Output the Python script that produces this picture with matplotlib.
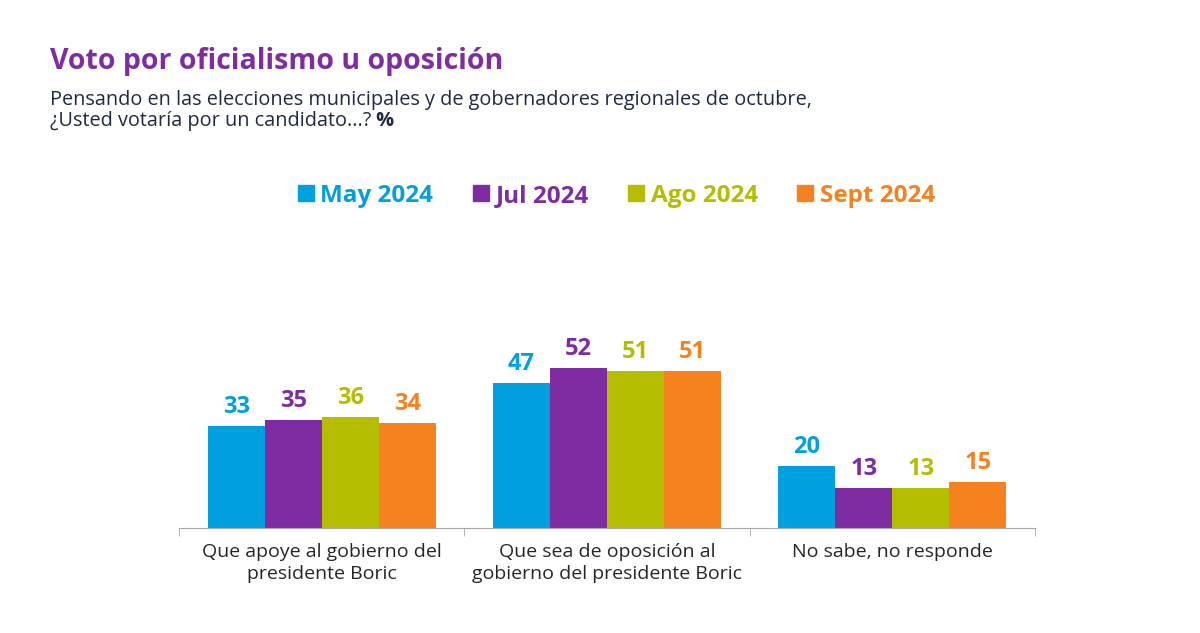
import matplotlib.pyplot as plt
import numpy as np
from matplotlib.lines import Line2D

# Data
categories = ['Que apoye al gobierno del\npresidente Boric',
              'Que sea de oposición al\ngobierno del presidente Boric',
              'No sabe, no responde']
series = ['May 2024', 'Jul 2024', 'Ago 2024', 'Sept 2024']
may_2024 = [33, 47, 20]
jul_2024 = [35, 52, 13]
ago_2024 = [36, 51, 13]
sept_2024 = [34, 51, 15]
colors = ['#00A0DF', '#7F2CA3', '#B5BD00', '#F5821F']

plt.rcParams['font.family'] = ['Open Sans', 'DejaVu Sans']

fig = plt.figure(figsize=(12, 6.33), dpi=100)
ax = fig.add_axes([179 / 1200, 1 - 528 / 633, 856 / 1200, 298 / 633])

x = np.arange(len(categories))
width = 0.2
values = [may_2024, jul_2024, ago_2024, sept_2024]
for i, (vals, c) in enumerate(zip(values, colors)):
    pos = x + (i - 1.5) * width
    ax.bar(pos, vals, width=width, color=c)
    for p, v in zip(pos, vals):
        ax.text(p, v + 2.3, str(v), ha='center', va='bottom', color=c,
                fontsize=17, fontweight='bold')

ax.set_xlim(-0.5, 2.5)
ax.set_ylim(0, 96.8)
for s in ['top', 'right', 'left']:
    ax.spines[s].set_visible(False)
ax.spines['bottom'].set_color('#a6a6a6')
ax.set_yticks([])
ax.set_xticks(x)
ax.set_xticklabels(categories, fontsize=14, color='#262626', linespacing=1.3)
ax.tick_params(axis='x', which='major', length=0, pad=11)
ax.set_xticks([-0.5, 0.5, 1.5, 2.5], minor=True)
ax.tick_params(axis='x', which='minor', length=6, color='#a6a6a6', direction='out')

# Titles
fig.text(50 / 1200, 1 - 61 / 633, 'Voto por oficialismo u oposición', fontsize=20.5,
         fontweight='bold', color='#7F2CA3', va='center')
fig.text(50 / 1200, 1 - 100 / 633,
         'Pensando en las elecciones municipales y de gobernadores regionales de octubre,',
         fontsize=14.3, color='#1F2A44', va='center')
sub2 = fig.text(50 / 1200, 1 - 121 / 633, '¿Usted votaría por un candidato...?',
                fontsize=14.3, color='#1F2A44', va='center')
ax.annotate(' %', xy=(1, 0.5), xycoords=sub2, va='center', ha='left',
            fontsize=14.3, color='#1F2A44', fontweight='bold', annotation_clip=False)

# Legend
handles = [Line2D([], [], marker='s', linestyle='none', markersize=11, color=c)
           for c in colors]
leg = fig.legend(handles, series, loc='center', bbox_to_anchor=(613 / 1200, 1 - 196 / 633),
                 ncol=4, frameon=False, handletextpad=0.0, columnspacing=1.35,
                 handlelength=1.2, prop={'size': 17.5, 'weight': 'bold'})
for t, c in zip(leg.get_texts(), colors):
    t.set_color(c)

fig.savefig('out.png', dpi=100)
